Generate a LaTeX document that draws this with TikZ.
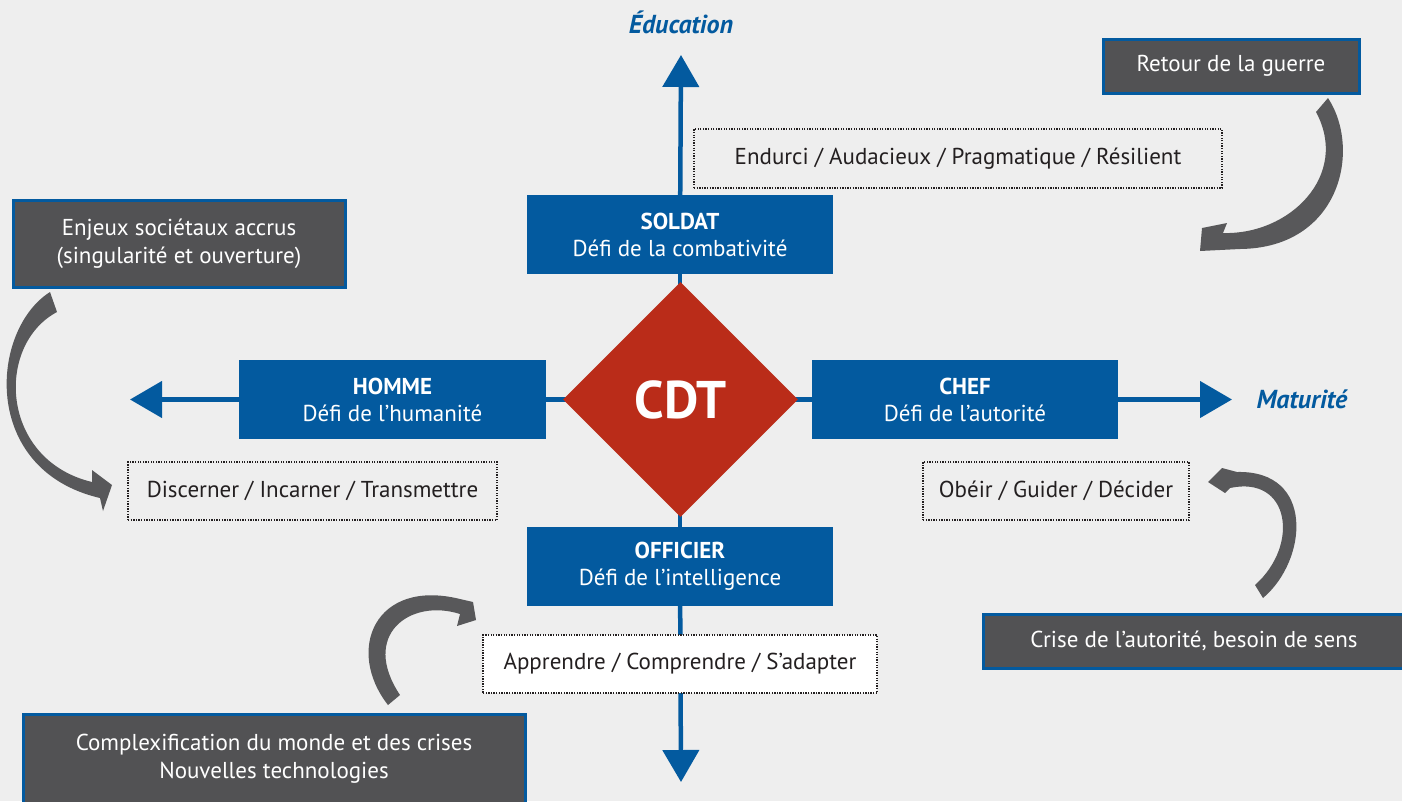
\documentclass[tikz,border=0pt]{standalone}
\usepackage{fontspec}
\setmainfont{PT Sans}
\usetikzlibrary{shapes.geometric,arrows.meta}
\definecolor{bgc}{HTML}{EEEEEE}
\definecolor{cblue}{HTML}{035A9F}
\definecolor{cdark}{HTML}{525254}
\definecolor{carrow}{HTML}{58585A}
\definecolor{cred}{HTML}{BA2C19}
\definecolor{ctext}{HTML}{231F20}
\pgfdeclarelayer{back}
\pgfdeclarelayer{lines}
\pgfsetlayers{back,lines,main}
\begin{document}
\begin{tikzpicture}[x=1pt,y=-1pt,
 bluebox/.style={fill=cblue,text=white,minimum width=306pt,minimum height=79pt,inner sep=0pt,align=center,font=\fontsize{23}{27}\selectfont},
 darkbox/.style={fill=cdark,draw=cblue,line width=3pt,text=white,inner sep=0pt,align=center,font=\fontsize{23}{28}\selectfont},
 dotbox/.style={draw=ctext,line width=1.3pt,dash pattern=on 1.3pt off 1.3pt,text=ctext,inner sep=0pt,font=\fontsize{23}{26}\selectfont},
 axisline/.style={draw=cblue,line width=4.5pt},
 axishead/.style={-{Triangle[width=36pt,length=32pt]}},
 bendarrow/.style={fill=carrow},
 axislabel/.style={text=cblue,font=\fontsize{26}{28}\selectfont\bfseries\itshape}
]
\useasboundingbox (0,0) rectangle (1402,801);
\clip (0,0) rectangle (1402,801);
\begin{pgfonlayer}{back}
\fill[bgc] (0,0) rectangle (1402,801);
\end{pgfonlayer}

% central diamond
\node[diamond,fill=cred,minimum width=235pt,minimum height=235pt,inner sep=0pt,
      text=white,font=\fontsize{53}{53}\selectfont\bfseries] (cdt) at (680.5,399.5) {CDT};

% blue boxes
\node[bluebox] (soldat) at (680,234.5) {{\bfseries SOLDAT}\\Défi de la combativité};
\node[bluebox,minimum width=307pt] (homme) at (392.5,399.5) {{\bfseries HOMME}\\Défi de l’humanité};
\node[bluebox] (chef) at (965,399.5) {{\bfseries CHEF}\\Défi de l’autorité};
\node[bluebox] (officier) at (680,566.5) {{\bfseries OFFICIER}\\Défi de l’intelligence};

% dotted boxes
\node[dotbox,minimum width=528pt,minimum height=59pt] (endurci) at (958,158.5) {Endurci / Audacieux / Pragmatique / Résilient};
\node[dotbox,minimum width=369pt,minimum height=58pt] (discerner) at (312.5,491) {Discerner / Incarner / Transmettre};
\node[dotbox,minimum width=266pt,minimum height=58pt] (obeir) at (1056,491) {Obéir / Guider / Décider};
\node[dotbox,fill=white,minimum width=394pt,minimum height=58pt] (apprendre) at (680,664) {Apprendre / Comprendre / S’adapter};

% dark boxes
\node[darkbox,minimum width=256pt,minimum height=54pt] (retour) at (1231,66) {Retour de la guerre};
\node[darkbox,minimum width=332pt,minimum height=87pt] (enjeux) at (179,243.5) {Enjeux sociétaux accrus\\(singularité et ouverture)};
\node[darkbox,minimum width=422pt,minimum height=54pt] (crise) at (1194,641) {Crise de l’autorité, besoin de sens};
\node[darkbox,minimum width=502pt,minimum height=90pt] (complex) at (274,759) {Complexification du monde et des crises\\Nouvelles technologies};

% axis labels
\node[axislabel] (edu) at (681,22) {Éducation};
\node[axislabel,anchor=west] (mat) at (1253,399) {Maturité};

% axes
\coordinate (eduTip) at (681,55);
\coordinate (botTip) at (681,782);
\coordinate (leftTip) at (130,399.5);
\coordinate (rightTip) at (1232,399.5);
\begin{pgfonlayer}{lines}
\draw[axisline,axishead] (soldat.center) -- (eduTip);
\draw[axisline,axishead] (officier.center) -- (botTip);
\draw[axisline,axishead] (homme.center) -- (leftTip);
\draw[axisline,axishead] (chef.center) -- (rightTip);
\draw[axisline] (soldat) -- (officier);
\draw[axisline] (homme) -- (chef);
\end{pgfonlayer}

% curved block arrows
\fill[bendarrow] (1328,98) .. controls (1362,150) and (1340,248) .. (1240,249)
  -- (1200,251) -- (1202,228) -- (1227,223) -- (1223,233)
  .. controls (1290,235) and (1350,175) .. (1316,112) -- cycle;
\fill[bendarrow] (50,292) .. controls (-10,330) and (-20,470) .. (100,498)
  -- (103,511) -- (112,485) -- (92,470) -- (92,482)
  .. controls (0,460) and (-5,345) .. (57,312) -- cycle;
\fill[bendarrow] (388,705) .. controls (345,650) and (375,578) .. (460,599)
  -- (473,602) -- (476,620) -- (457,626) -- (460,614)
  .. controls (410,598) and (360,635) .. (400,695) -- cycle;
\fill[bendarrow] (1263,598) .. controls (1308,560) and (1315,470) .. (1237,472)
  -- (1222,468) -- (1208,482) -- (1225,493) -- (1230,488)
  .. controls (1290,475) and (1300,545) .. (1255,585) -- cycle;
\end{tikzpicture}
\end{document}
